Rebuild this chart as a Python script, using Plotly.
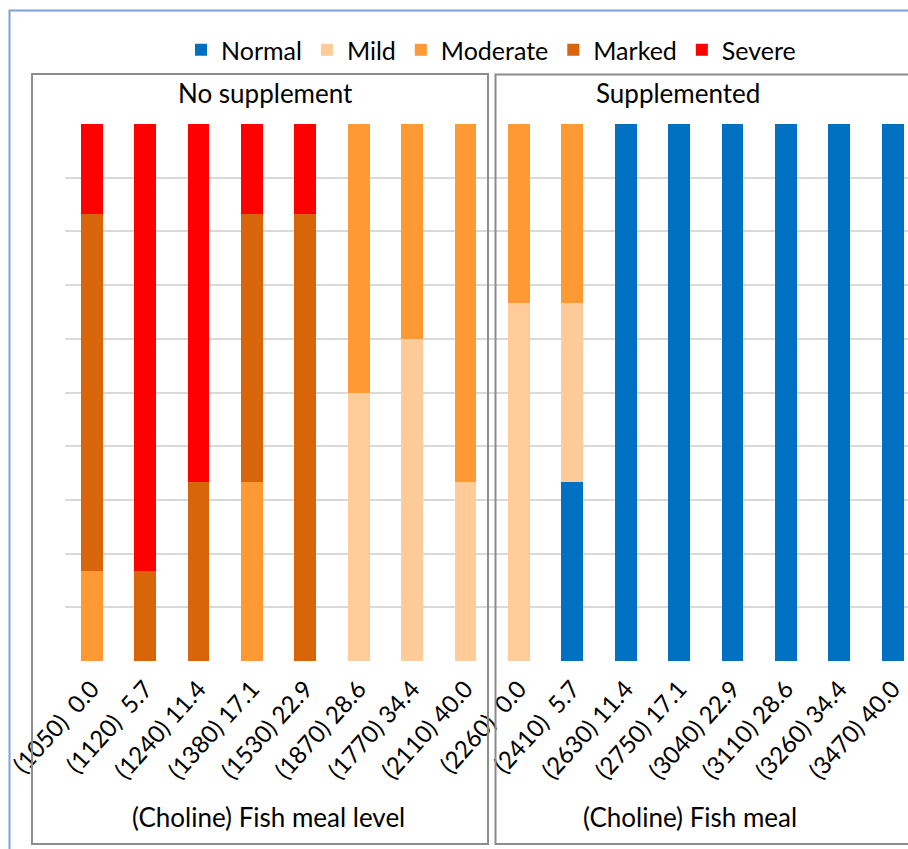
import plotly.graph_objects as go

diets = ["(1050)\u00a0 0.0", "(1120)\u00a0 5.7", "(1240) 11.4", "(1380) 17.1",
         "(1530) 22.9", "(1870) 28.6", "(1770) 34.4", "(2110) 40.0",
         "(2260)\u00a0 0.0", "(2410)\u00a0 5.7", "(2630) 11.4", "(2750) 17.1",
         "(3040) 22.9", "(3110) 28.6", "(3260) 34.4", "(3470) 40.0"]

normal   = [0, 0, 0, 0, 0, 0, 0, 0, 0, 33.3, 100, 100, 100, 100, 100, 100]
mild     = [0, 0, 0, 0, 0, 50.0, 60.0, 33.3, 66.7, 33.3, 0, 0, 0, 0, 0, 0]
moderate = [16.7, 0, 0, 33.3, 0, 50.0, 40.0, 66.7, 33.3, 33.4, 0, 0, 0, 0, 0, 0]
marked   = [66.6, 16.7, 33.3, 50.0, 83.3, 0, 0, 0, 0, 0, 0, 0, 0, 0, 0, 0]
severe   = [16.7, 83.3, 66.7, 16.7, 16.7, 0, 0, 0, 0, 0, 0, 0, 0, 0, 0, 0]

series = [("Normal", normal, "#0070C0"),
          ("Mild", mild, "#FFCC99"),
          ("Moderate", moderate, "#FF9933"),
          ("Marked", marked, "#D9650B"),
          ("Severe", severe, "#FF0000")]

FONT = "Lato, Carlito, 'Open Sans', sans-serif"
W, H = 908, 849
L, R, T, B = 65, 0, 124, 188
pw, ph = W - L - R, H - T - B

def px(x):
    return (x - L) / pw

def py(y):
    return (H - B - y) / ph

xpos = list(range(len(diets)))
fig = go.Figure()
for name, vals, col in series:
    fig.add_trace(go.Bar(x=xpos, y=vals, name=name, marker_color=col,
                         marker_line_width=0, width=0.41))

cat_w = 53.4
fig.update_layout(
    width=W, height=H, barmode="stack",
    margin=dict(l=L, r=R, t=T, b=B, pad=0),
    paper_bgcolor="white", plot_bgcolor="white",
    font=dict(family=FONT, size=24, color="#000000"),
    showlegend=True,
    legend=dict(orientation="h", x=px(491), xanchor="center", y=py(50), yanchor="middle",
                traceorder="normal", font=dict(size=25), itemsizing="constant",
                bgcolor="rgba(0,0,0,0)"),
    xaxis=dict(range=[-0.5, -0.5 + pw / cat_w], tickmode="array", tickvals=xpos,
               ticktext=diets, tickangle=-48, showgrid=False, zeroline=False,
               showline=False, ticks="", ticklabelstandoff=8,
               tickfont=dict(size=24, family=FONT)),
    yaxis=dict(range=[0, 100], dtick=10, showticklabels=False, showgrid=True,
               gridcolor="#D9D9D9", gridwidth=1.5, zeroline=False, showline=False,
               ticks=""),
)

shapes = []
# outer blue border
shapes.append(dict(type="rect", xref="paper", yref="paper",
                   x0=px(9.5), x1=px(930), y0=py(870), y1=py(10.5),
                   line=dict(color="#7EA1DA", width=2)))
# panel boxes
shapes.append(dict(type="rect", xref="paper", yref="paper",
                   x0=px(32), x1=px(488), y0=py(844), y1=py(74),
                   line=dict(color="#8C8C8C", width=2)))
shapes.append(dict(type="rect", xref="paper", yref="paper",
                   x0=px(495.5), x1=px(930), y0=py(844), y1=py(74.5),
                   line=dict(color="#8C8C8C", width=2)))
fig.update_layout(shapes=shapes)

annos = [
    ("No supplement", 265, 93),
    ("Supplemented", 678, 93),
    ("(Choline) Fish meal level", 268, 817),
    ("(Choline) Fish meal", 690, 817),
]
for txt, x, y in annos:
    fig.add_annotation(text=txt, x=px(x), y=py(y), xref="paper", yref="paper",
                       showarrow=False, xanchor="center", yanchor="middle",
                       font=dict(size=26, family=FONT, color="#000000"))

fig.write_html("out.html", config={"displayModeBar": False},
               post_script="document.body.style.margin='0';document.body.style.overflow='hidden';")
